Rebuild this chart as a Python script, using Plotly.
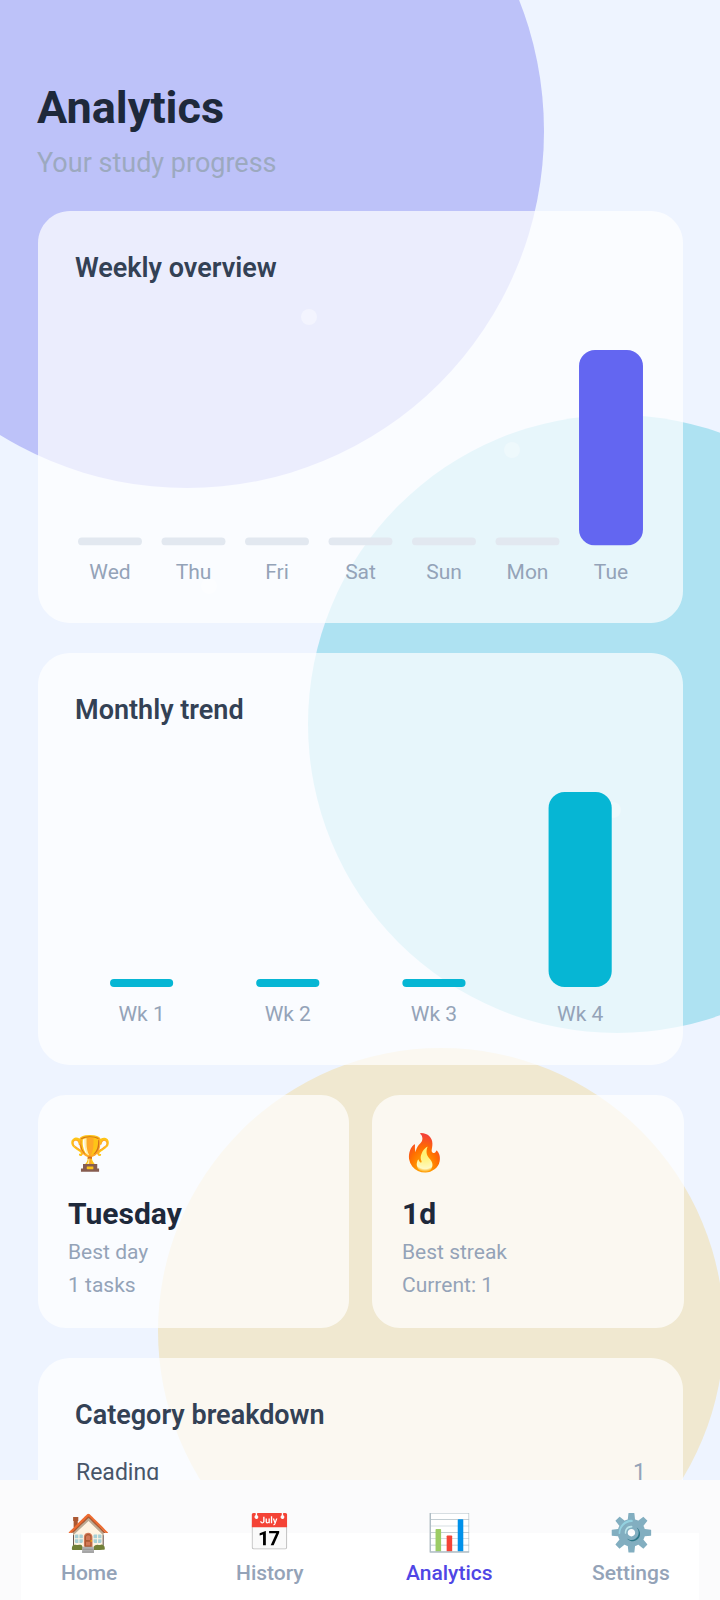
import plotly.graph_objects as go

# ---- data ----
week_days = ["Wed", "Thu", "Fri", "Sat", "Sun", "Mon", "Tue"]
week_values = [0, 0, 0, 0, 0, 0, 1]
month_weeks = ["Wk 1", "Wk 2", "Wk 3", "Wk 4"]
month_values = [0, 0, 0, 1]
cat_names = ["Reading"]
cat_counts = [1]
nav_labels = ["Home", "History", "Analytics", "Settings"]
nav_icons = ["🏠", "📅", "📊", "⚙️"]

W, H = 720, 1600
FONT = "Roboto"
INK, SLATE, MUTED = "#1E293B", "#334155", "#94A3B8"
MIN_BAR = 0.041


def px(x):
    return x / W


def py(y):
    return 1 - y / H


def rrect(x0, y0, x1, y1, r, fill, layer="below"):
    k = r * 0.448
    pts = [
        f"M {px(x0+r)} {py(y0)}", f"L {px(x1-r)} {py(y0)}",
        f"C {px(x1-k)} {py(y0)} {px(x1)} {py(y0+k)} {px(x1)} {py(y0+r)}",
        f"L {px(x1)} {py(y1-r)}",
        f"C {px(x1)} {py(y1-k)} {px(x1-k)} {py(y1)} {px(x1-r)} {py(y1)}",
        f"L {px(x0+r)} {py(y1)}",
        f"C {px(x0+k)} {py(y1)} {px(x0)} {py(y1-k)} {px(x0)} {py(y1-r)}",
        f"L {px(x0)} {py(y0+r)}",
        f"C {px(x0)} {py(y0+k)} {px(x0+k)} {py(y0)} {px(x0+r)} {py(y0)}", "Z",
    ]
    return dict(type="path", xref="paper", yref="paper", path=" ".join(pts),
                fillcolor=fill, line_width=0, layer=layer)


def circle(cx, cy, r, fill):
    return dict(type="circle", xref="paper", yref="paper", x0=px(cx-r), x1=px(cx+r),
                y0=py(cy+r), y1=py(cy-r), fillcolor=fill, line_width=0, layer="below")


def rect(x0, y0, x1, y1, fill):
    return dict(type="rect", xref="paper", yref="paper", x0=px(x0), x1=px(x1),
                y0=py(y1), y1=py(y0), fillcolor=fill, line_width=0, layer="above")


def label(text, x, y, size, color, weight=400, anchor="left"):
    return dict(text=text, xref="paper", yref="paper", x=px(x), y=py(y), xanchor=anchor,
                yanchor="middle", showarrow=False,
                font=dict(family=FONT, size=size, color=color, weight=weight))


CARD = "rgba(255,255,255,0.7)"
shapes = [
    circle(187, 131, 357, "#BDC2F9"),
    circle(617, 724, 309, "#AEE2F2"),
    circle(441, 1331, 283, "#F0E8D0"),
    rrect(38, 211, 683, 623, 32, CARD),
    rrect(38, 653, 683, 1065, 32, CARD),
    rrect(38, 1095, 349, 1328, 28, CARD),
    rrect(372, 1095, 684, 1328, 28, CARD),
    rrect(38, 1358, 683, 1700, 32, CARD),
    circle(309, 317, 8, "rgba(255,255,255,0.4)"),
    circle(512, 450, 8, "rgba(255,255,255,0.3)"),
    circle(209, 586, 8, "rgba(255,255,255,0.4)"),
    circle(613, 810, 8, "rgba(255,255,255,0.3)"),
    rect(0, 1480, 720, 1600, "#FBFBFC"),
    rect(21, 1533, 699, 1600, "#FFFFFF"),
]

annotations = [
    label("Analytics", 35, 107, 45, INK, 700),
    label("Your study progress", 35, 163, 27, "#9CA9BF"),
    label("Weekly overview", 73, 268, 27, SLATE, 600),
    label("Monthly trend", 73, 710, 27, SLATE, 600),
    label("Category breakdown", 73, 1415, 27, SLATE, 600),
    label("🏆", 90, 1153, 34, INK, anchor="center"),
    label("🔥", 424, 1153, 36, INK, anchor="center"),
    label("Tuesday", 66, 1213, 30, INK, 700),
    label("1d", 400, 1213, 30, INK, 700),
    label("Best day", 66, 1252, 21, MUTED),
    label("1 tasks", 66, 1285, 21, MUTED),
    label("Best streak", 400, 1252, 21, MUTED),
    label("Current: 1", 400, 1285, 21, MUTED),
]
nav_x = [88.5, 269.5, 449, 631]
for name, icon, x in zip(nav_labels, nav_icons, nav_x):
    active = name == "Analytics"
    annotations.append(label(icon, x, 1533, 36, INK, anchor="center"))
    annotations.append(label(name, x, 1573, 21, "#4F46E5" if active else MUTED,
                             500, anchor="center"))

fig = go.Figure()


def add_series(cats, values, colors, width, xa, ya):
    """An explicit base makes Plotly round both ends of a bar; empty days keep a stub."""
    for zero_group, radius in ((True, 4), (False, 16)):
        idx = [i for i, v in enumerate(values) if (v == 0) == zero_group]
        fig.add_bar(x=[cats[i] for i in idx], y=[max(values[i], MIN_BAR) for i in idx],
                    base=[0] * len(idx), width=width, xaxis=xa, yaxis=ya, hoverinfo="skip",
                    marker=dict(color=[colors[i] for i in idx], cornerradius=radius,
                                line_width=0))


add_series(week_days, week_values,
           ["#6366F1" if v else "#E2E8F0" for v in week_values], 0.766, "x", "y")
add_series(month_weeks, month_values, ["#06B6D4"] * len(month_values), 0.432, "x2", "y2")

fig.add_scatter(x=[76] * len(cat_names), y=[1474] * len(cat_names), text=cat_names,
                mode="text", textposition="middle right",
                textfont=dict(family=FONT, size=23, color="#475569"),
                xaxis="x3", yaxis="y3", hoverinfo="skip")
fig.add_scatter(x=[646] * len(cat_counts), y=[1474] * len(cat_counts),
                text=[str(c) for c in cat_counts], mode="text", textposition="middle left",
                textfont=dict(family=FONT, size=23, color=MUTED),
                xaxis="x3", yaxis="y3", hoverinfo="skip")

xbase = dict(type="category", showgrid=False, zeroline=False, showline=False, ticks="",
             tickfont=dict(family=FONT, size=21, color=MUTED),
             categoryorder="array")
ybase = dict(range=[0, 1], visible=False, fixedrange=True)
hidden = dict(visible=False, fixedrange=True)

fig.update_layout(
    width=W, height=H, margin=dict(l=0, r=0, t=0, b=0, pad=0),
    paper_bgcolor="#EEF4FF", plot_bgcolor="rgba(0,0,0,0)",
    showlegend=False, barmode="overlay", shapes=shapes, annotations=annotations,
    xaxis=dict(xbase, domain=[px(68.25), px(652.75)], anchor="y", ticklabelstandoff=11,
               categoryarray=week_days),
    yaxis=dict(ybase, domain=[py(545.5), py(350)], anchor="x"),
    xaxis2=dict(xbase, domain=[px(68.5), px(653.25)], anchor="y2", ticklabelstandoff=12,
                categoryarray=month_weeks),
    yaxis2=dict(ybase, domain=[py(987), py(792)], anchor="x2"),
    xaxis3=dict(hidden, range=[0, W], domain=[0, 1], anchor="y3"),
    yaxis3=dict(hidden, range=[H, 0], domain=[0, 1], anchor="x3"),
)
fig.write_html("out.html", config=dict(displayModeBar=False),
               post_script="document.body.style.margin='0';")
